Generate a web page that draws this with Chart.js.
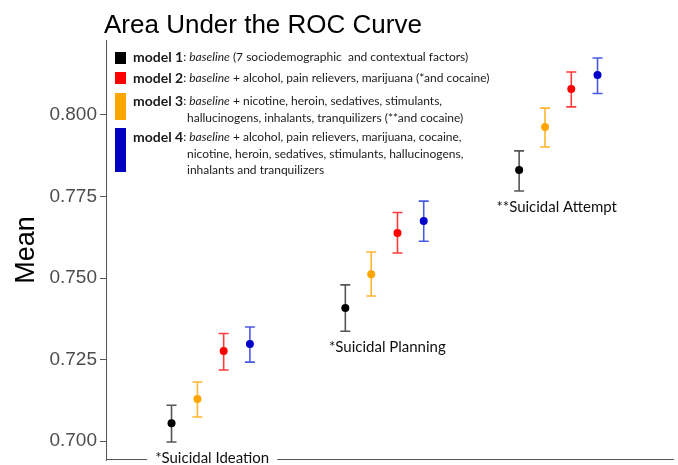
<!DOCTYPE html>
<html>
<head>
<meta charset="utf-8">
<script src="https://cdn.jsdelivr.net/npm/chart.js@4/dist/chart.umd.min.js"></script>
<style>
html,body{margin:0;padding:0;background:#fff;}
#wrap{width:678px;height:465px;position:relative;}
</style>
</head>
<body>
<div id="wrap"><canvas id="c" width="678" height="465"></canvas></div>
<script>
// ---- data ----
const groups = ["*Suicidal Ideation", "*Suicidal Planning", "**Suicidal Attempt"];
const models = ["model 1", "model 2", "model 3", "model 4"];
// horizontal order within a group: model 1, model 3, model 2, model 4
const modelOffsets = [0, 0.300, 0.149, 0.451];
const meanM1 = [0.7055, 0.7408, 0.7831];
const meanM2 = [0.7276, 0.7638, 0.8080];
const meanM3 = [0.7129, 0.7512, 0.7963];
const meanM4 = [0.7298, 0.7675, 0.8123];
const lowM1 = [0.6997, 0.7337, 0.7767];
const lowM2 = [0.7218, 0.7577, 0.8025];
const lowM3 = [0.7074, 0.7445, 0.7902];
const lowM4 = [0.7242, 0.7613, 0.8066];
const highM1 = [0.7110, 0.7479, 0.7890];
const highM2 = [0.7330, 0.7701, 0.8132];
const highM3 = [0.7181, 0.7580, 0.8021];
const highM4 = [0.7350, 0.7736, 0.8175];
const yTicks = [0.700, 0.725, 0.750, 0.775, 0.800];
const pointColors = ["#000000", "#ff0000", "#ffa500", "#0000cd"];
const barColors = ["#555555", "#ff3b3b", "#ffb52e", "#4a58e6"];
const legendColors = ["#000000", "#ff0000", "#ffa500", "#0000c0"];
const legendLines = [
  [[["b","model 1"],["n",": "],["i","baseline"],["n"," (7 sociodemographic  and contextual factors)"]]],
  [[["b","model 2"],["n",": "],["i","baseline"],["n"," + alcohol, pain relievers, marijuana (*and cocaine)"]]],
  [[["b","model 3"],["n",": "],["i","baseline"],["n"," + nicotine, heroin, sedatives, stimulants,"]],
   [["n","hallucinogens, inhalants, tranquilizers (**and cocaine)"]]],
  [[["b","model 4"],["n",": "],["i","baseline"],["n"," + alcohol, pain relievers, marijuana, cocaine,"]],
   [["n","nicotine, heroin, sedatives, stimulants, hallucinogens,"]],
   [["n","inhalants and tranquilizers"]]]
];

const means = [meanM1, meanM2, meanM3, meanM4];
const lows = [lowM1, lowM2, lowM3, lowM4];
const highs = [highM1, highM2, highM3, highM4];

const datasets = models.map((m, k) => ({
  label: m,
  data: groups.map((g, i) => ({x: i + modelOffsets[k], y: means[k][i], lo: lows[k][i], hi: highs[k][i]})),
  backgroundColor: pointColors[k],
  borderColor: pointColors[k],
  barColor: barColors[k],
  pointRadius: 4,
  pointBorderWidth: 0,
  showLine: false
}));

const FONT = "Lato, 'Noto Sans', sans-serif";
const ARIAL = "'Liberation Sans', Arial, sans-serif";

const errorBars = {
  id: 'errorBars',
  beforeDatasetsDraw(chart) {
    const ctx = chart.ctx, xs = chart.scales.x, ys = chart.scales.y;
    ctx.save();
    chart.data.datasets.forEach(ds => {
      ctx.strokeStyle = ds.barColor;
      ctx.lineWidth = 1.6;
      ds.data.forEach(p => {
        const x = xs.getPixelForValue(p.x);
        const y1 = ys.getPixelForValue(p.lo), y2 = ys.getPixelForValue(p.hi);
        ctx.beginPath();
        ctx.moveTo(x, y1); ctx.lineTo(x, y2);
        ctx.moveTo(x - 5, y1); ctx.lineTo(x + 5, y1);
        ctx.moveTo(x - 5, y2); ctx.lineTo(x + 5, y2);
        ctx.stroke();
      });
    });
    ctx.restore();
  }
};

const decor = {
  id: 'decor',
  afterDraw(chart) {
    const ctx = chart.ctx, xs = chart.scales.x, ys = chart.scales.y, a = chart.chartArea;
    ctx.save();
    // title
    ctx.fillStyle = '#000';
    ctx.font = "26px " + ARIAL;
    ctx.textBaseline = 'alphabetic';
    ctx.textAlign = 'left';
    ctx.fillText("Area Under the ROC Curve", a.left - 2, 33);

    // group labels
    ctx.font = "15px " + FONT;
    ctx.fillStyle = '#111';
    ctx.textBaseline = 'middle';
    const gaps = [];
    groups.forEach((g, i) => {
      const px = xs.getPixelForValue(i + modelOffsets[0]);
      const py = ys.getPixelForValue(lowM1[i]) + 16;
      const stars = g.match(/^\*+/)[0];
      const sw = ctx.measureText(stars).width;
      const x0 = px - 10 - sw;
      ctx.fillText(g, x0, py);
      const w = ctx.measureText(g).width;
      if (py > a.bottom - 10) gaps.push([x0 - 8, x0 + w + 8]);
    });
    // x axis line with gaps
    ctx.strokeStyle = '#555';
    ctx.lineWidth = 1;
    let start = a.left;
    const yb = Math.round(a.bottom) - 0.5;
    gaps.sort((p, q) => p[0] - q[0]).forEach(gp => {
      ctx.beginPath(); ctx.moveTo(start, yb); ctx.lineTo(gp[0], yb); ctx.stroke();
      start = gp[1];
    });
    ctx.beginPath(); ctx.moveTo(start, yb); ctx.lineTo(a.right, yb); ctx.stroke();

    // legend
    const lx = a.left + 9, tx = a.left + 27, indent = a.left + 81;
    const rects = [[52, 64], [72, 84], [93, 120], [128, 172]];
    const lineY = [[57], [78], [101, 118], [137, 154, 170]];
    legendLines.forEach((entry, k) => {
      ctx.fillStyle = legendColors[k];
      ctx.fillRect(lx, rects[k][0], 11, rects[k][1] - rects[k][0]);
      entry.forEach((runs, j) => {
        let x = j === 0 ? tx : indent;
        const y = lineY[k][j];
        runs.forEach(([st, t]) => {
          ctx.font = (st === 'b' ? 'bold 14px ' : st === 'i' ? 'italic 12px ' : '12px ') + FONT;
          ctx.fillStyle = '#1a1a1a';
          ctx.fillText(t, x, y);
          x += ctx.measureText(t).width;
        });
      });
    });
    ctx.restore();
  }
};

new Chart(document.getElementById('c'), {
  type: 'scatter',
  data: { datasets },
  options: {
    responsive: false,
    animation: false,
    layout: { padding: { top: 40, bottom: 5, right: 0, left: 0 } },
    plugins: { legend: { display: false }, tooltip: { enabled: false }, title: { display: false } },
    scales: {
      x: { type: 'linear', min: -0.377, max: 2.891, display: false },
      y: {
        type: 'linear', min: 0.6942, max: 0.8230,
        afterFit(s) { s.width = 106; s.paddingTop = 0; s.paddingBottom = 0; },
        afterBuildTicks(s) { s.ticks = yTicks.map(v => ({ value: v })); },
        ticks: {
          callback: v => v.toFixed(3),
          color: '#4d4d4d',
          font: { family: ARIAL, size: 19 },
          padding: 3
        },
        grid: { display: true, drawOnChartArea: false, drawTicks: true, tickLength: 6, color: '#555' },
        border: { display: true, color: '#555', width: 1 },
        title: {
          display: true, text: 'Mean', color: '#000',
          font: { family: ARIAL, size: 27 },
          padding: { top: 10, bottom: 4 }
        }
      }
    }
  },
  plugins: [errorBars, decor]
});
</script>
</body>
</html>
